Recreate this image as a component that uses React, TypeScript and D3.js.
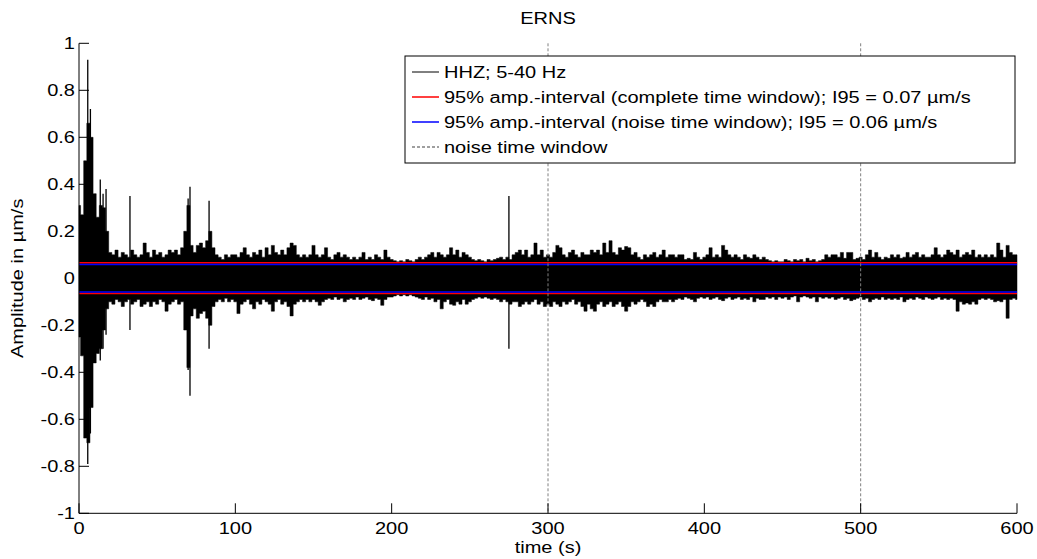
import React from "react";
import * as d3 from "d3";

// ---------- data ----------
const TITLE = "ERNS";
const X_LABEL = "time (s)";
const Y_LABEL = "Amplitude in µm/s";

const SAMPLE_STEP = 2; // seconds between envelope samples

// upper envelope of the HHZ trace (µm/s), every 2 s from 0 to 600 s
const upperEnvelope = [
  0.31, 0.27, 0.5, 0.66, 0.6, 0.36, 0.26, 0.31, 0.3, 0.2,
  0.11, 0.1, 0.12, 0.09, 0.11, 0.1, 0.09, 0.12, 0.1, 0.09,
  0.1, 0.15, 0.11, 0.09, 0.12, 0.1, 0.11, 0.09, 0.1, 0.12,
  0.11, 0.12, 0.1, 0.13, 0.2, 0.31, 0.14, 0.11, 0.14, 0.15,
  0.13, 0.16, 0.2, 0.13, 0.1, 0.09, 0.08, 0.1, 0.09, 0.1,
  0.1, 0.09, 0.11, 0.13, 0.1, 0.09, 0.11, 0.1, 0.12, 0.09,
  0.13, 0.1, 0.14, 0.11, 0.1, 0.12, 0.1, 0.13, 0.15, 0.14,
  0.1, 0.09, 0.1, 0.09, 0.1, 0.14, 0.1, 0.09, 0.1, 0.13,
  0.09, 0.08, 0.1, 0.11, 0.09, 0.1, 0.09, 0.08, 0.09, 0.08,
  0.09, 0.11, 0.08, 0.09, 0.08, 0.1, 0.09, 0.08, 0.12, 0.09,
  0.08, 0.075, 0.07, 0.075, 0.07, 0.08, 0.075, 0.07, 0.08, 0.09,
  0.08, 0.09, 0.1, 0.11, 0.09, 0.11, 0.1, 0.09, 0.1, 0.13,
  0.1, 0.12, 0.09, 0.11, 0.1, 0.09, 0.08, 0.075, 0.08, 0.075,
  0.07, 0.08, 0.075, 0.08, 0.085, 0.09, 0.08, 0.09, 0.08, 0.1,
  0.11, 0.12, 0.1, 0.12, 0.09, 0.1, 0.15, 0.1, 0.12, 0.09,
  0.1, 0.09, 0.11, 0.14, 0.13, 0.1, 0.09, 0.11, 0.12, 0.1,
  0.09, 0.11, 0.1, 0.1, 0.12, 0.11, 0.12, 0.1, 0.15, 0.11,
  0.16, 0.11, 0.1, 0.13, 0.12, 0.135, 0.13, 0.1, 0.11, 0.09,
  0.08, 0.1, 0.09, 0.1, 0.11, 0.09, 0.1, 0.12, 0.09, 0.1,
  0.1, 0.09, 0.1, 0.1, 0.08, 0.085, 0.08, 0.11, 0.09, 0.08,
  0.09, 0.1, 0.13, 0.09, 0.1, 0.09, 0.14, 0.12, 0.1, 0.09,
  0.1, 0.09, 0.08, 0.1, 0.09, 0.085, 0.1, 0.09, 0.08, 0.09,
  0.08, 0.075, 0.07, 0.075, 0.07, 0.07, 0.08, 0.075, 0.07, 0.08,
  0.075, 0.08, 0.07, 0.085, 0.075, 0.08, 0.07, 0.075, 0.08, 0.1,
  0.09, 0.1, 0.1, 0.09, 0.11, 0.085, 0.11, 0.11, 0.08, 0.085,
  0.09, 0.08, 0.1, 0.12, 0.09, 0.11, 0.09, 0.08, 0.09, 0.085,
  0.1, 0.09, 0.1, 0.085, 0.09, 0.11, 0.09, 0.1, 0.11, 0.09,
  0.1, 0.09, 0.09, 0.1, 0.13, 0.1, 0.09, 0.1, 0.12, 0.11,
  0.1, 0.12, 0.09, 0.1, 0.11, 0.1, 0.12, 0.09, 0.1, 0.09,
  0.1, 0.09, 0.1, 0.09, 0.15, 0.12, 0.09, 0.14, 0.11, 0.1,
  0.1,
];

// lower envelope of the HHZ trace (µm/s), every 2 s from 0 to 600 s
const lowerEnvelope = [
  -0.25, -0.33, -0.68, -0.7, -0.55, -0.36, -0.32, -0.3, -0.22, -0.13,
  -0.1, -0.11, -0.09, -0.1, -0.12, -0.1, -0.09, -0.11, -0.1, -0.09,
  -0.12, -0.11, -0.1, -0.12, -0.1, -0.11, -0.09, -0.1, -0.14, -0.11,
  -0.1, -0.09, -0.11, -0.1, -0.22, -0.38, -0.16, -0.13, -0.17, -0.15,
  -0.14, -0.17, -0.2, -0.12, -0.1, -0.09, -0.1, -0.085, -0.1, -0.09,
  -0.1, -0.15, -0.11, -0.1, -0.09, -0.11, -0.13, -0.1, -0.11, -0.09,
  -0.1, -0.11, -0.14, -0.1, -0.09, -0.11, -0.1, -0.12, -0.16, -0.11,
  -0.1, -0.09, -0.1, -0.09, -0.1, -0.09, -0.1, -0.115, -0.1, -0.09,
  -0.085, -0.09, -0.08, -0.09, -0.085, -0.1, -0.09, -0.085, -0.09, -0.08,
  -0.09, -0.085, -0.08, -0.09, -0.095, -0.085, -0.09, -0.115, -0.09, -0.08,
  -0.08, -0.075, -0.07, -0.075, -0.07, -0.075, -0.07, -0.075, -0.08, -0.085,
  -0.09, -0.08, -0.09, -0.085, -0.1, -0.09, -0.13, -0.1, -0.09, -0.11,
  -0.115, -0.1, -0.11, -0.09, -0.11, -0.1, -0.09, -0.085, -0.08, -0.085,
  -0.08, -0.085, -0.09, -0.085, -0.09, -0.1, -0.09, -0.1, -0.11, -0.1,
  -0.1, -0.12, -0.11, -0.1, -0.11, -0.1, -0.09, -0.11, -0.1, -0.12,
  -0.11, -0.12, -0.1, -0.11, -0.12, -0.1, -0.11, -0.1, -0.09, -0.11,
  -0.1, -0.12, -0.14, -0.11, -0.13, -0.14, -0.11, -0.1, -0.12, -0.11,
  -0.1, -0.12, -0.11, -0.1, -0.12, -0.14, -0.12, -0.1, -0.11, -0.1,
  -0.09, -0.1, -0.12, -0.11, -0.12, -0.1, -0.09, -0.1, -0.1, -0.09,
  -0.1, -0.09, -0.085, -0.09, -0.08, -0.085, -0.09, -0.1, -0.085, -0.08,
  -0.085, -0.08, -0.09, -0.085, -0.08, -0.09, -0.095, -0.085, -0.08, -0.09,
  -0.085, -0.08, -0.09, -0.085, -0.09, -0.08, -0.1, -0.085, -0.09, -0.09,
  -0.08, -0.085, -0.08, -0.09, -0.08, -0.085, -0.08, -0.09, -0.08, -0.075,
  -0.1, -0.08, -0.075, -0.08, -0.085, -0.08, -0.1, -0.08, -0.085, -0.08,
  -0.085, -0.08, -0.09, -0.085, -0.08, -0.09, -0.085, -0.095, -0.09, -0.085,
  -0.08, -0.09, -0.085, -0.1, -0.09, -0.085, -0.09, -0.08, -0.09, -0.085,
  -0.09, -0.085, -0.09, -0.08, -0.1, -0.09, -0.085, -0.09, -0.08, -0.085,
  -0.09, -0.08, -0.085, -0.09, -0.085, -0.08, -0.09, -0.085, -0.09, -0.085,
  -0.09, -0.14, -0.1, -0.11, -0.105, -0.11, -0.1, -0.11, -0.09, -0.085,
  -0.09, -0.085, -0.09, -0.1, -0.095, -0.1, -0.09, -0.17, -0.09, -0.085,
  -0.09,
];

// narrow peaks of the trace: [time s, max µm/s, min µm/s]
const spikes: [number, number, number][] = [
  [5.6, 0.93, -0.79],
  [7.3, 0.72, -0.66],
  [13.6, 0.42, -0.35],
  [15.4, 0.36, -0.3],
  [17.3, 0.38, -0.24],
  [32.6, 0.35, -0.22],
  [69.8, 0.34, -0.39],
  [71.0, 0.39, -0.5],
  [83.2, 0.33, -0.3],
  [275.0, 0.35, -0.3],
];

const completeWindowInterval = [0.066, -0.065]; // red
const noiseWindowInterval = [0.059, -0.058]; // blue
const noiseWindowBounds = [300, 500];

const xTicks = [0, 100, 200, 300, 400, 500, 600];
const yTicks = [-1, -0.8, -0.6, -0.4, -0.2, 0, 0.2, 0.4, 0.6, 0.8, 1];
const yTickLabels = ["-1", "-0.8", "-0.6", "-0.4", "-0.2", "0", "0.2", "0.4", "0.6", "0.8", "1"];

const legendLabels = [
  "HHZ; 5-40 Hz",
  "95% amp.-interval (complete time window); I95 = 0.07 µm/s",
  "95% amp.-interval (noise time window); I95 = 0.06 µm/s",
  "noise time window",
];

// ---------- layout ----------
const W = 1037;
const H = 559;
const M = { left: 79, right: 1017, top: 43.3, bottom: 513.3 };
const FONT = "'Liberation Sans', Arial, Helvetica, sans-serif";
const FS = 16;
const STRETCH = 1.25;

function Txt(props: {
  x: number;
  y: number;
  anchor?: string;
  rotate?: number;
  children: React.ReactNode;
}) {
  const { x, y, anchor = "start", rotate = 0, children } = props;
  return (
    <text
      transform={`translate(${x},${y}) rotate(${rotate}) scale(${STRETCH},1)`}
      textAnchor={anchor}
      fontFamily={FONT}
      fontSize={FS}
      fill="#000"
    >
      {children}
    </text>
  );
}

export default function App() {
  const x = d3.scaleLinear().domain([0, 600]).range([M.left, M.right]);
  const y = d3.scaleLinear().domain([-1, 1]).range([M.bottom, M.top]);

  const area = d3
    .area<number>()
    .curve(d3.curveStep)
    .x((_, i) => x(i * SAMPLE_STEP))
    .y0((_, i) => y(lowerEnvelope[i]))
    .y1((d) => y(d));

  const legendColors = ["#000", "#ff0000", "#0000ff", "#808080"];
  const lg = { x: 405, y: 56, w: 610, h: 107 };
  const rowY = (i: number) => 72 + i * 25;

  return (
    <svg
      width={W}
      height={H}
      style={{ position: "absolute", left: 0, top: 0, background: "#fff" }}
    >
      <rect x={0} y={0} width={W} height={H} fill="#fff" />
      <Txt x={(M.left + M.right) / 2} y={24} anchor="middle">
        {TITLE}
      </Txt>

      {/* signal */}
      <path d={area(upperEnvelope) || ""} fill="#000" stroke="#000" strokeWidth={0.5} />
      {spikes.map(([t, hi, lo], i) => (
        <line key={i} x1={x(t)} x2={x(t)} y1={y(hi)} y2={y(lo)} stroke="#000" strokeWidth={1.3} />
      ))}

      {/* 95% intervals */}
      {completeWindowInterval.map((v, i) => (
        <line key={"r" + i} x1={x(0)} x2={x(600)} y1={y(v)} y2={y(v)} stroke="#ff0000" strokeWidth={1.5} />
      ))}
      {noiseWindowInterval.map((v, i) => (
        <line key={"b" + i} x1={x(0)} x2={x(600)} y1={y(v)} y2={y(v)} stroke="#0000ff" strokeWidth={1.5} />
      ))}

      {/* noise window */}
      {noiseWindowBounds.map((t, i) => (
        <line
          key={"d" + i}
          x1={x(t)}
          x2={x(t)}
          y1={y(1)}
          y2={y(-1)}
          stroke="#808080"
          strokeWidth={1}
          strokeDasharray="3,2"
        />
      ))}

      {/* axes */}
      <line x1={M.left} x2={M.left} y1={M.top} y2={M.bottom} stroke="#000" strokeWidth={1} />
      <line x1={M.left} x2={M.right} y1={M.bottom} y2={M.bottom} stroke="#000" strokeWidth={1} />
      {yTicks.map((v, i) => (
        <g key={"yt" + i}>
          <line x1={M.left} x2={M.left + 10} y1={y(v)} y2={y(v)} stroke="#000" strokeWidth={1} />
          <Txt x={M.left - 4} y={y(v) + 5.5} anchor="end">
            {yTickLabels[i]}
          </Txt>
        </g>
      ))}
      {xTicks.map((v, i) => (
        <g key={"xt" + i}>
          <line x1={x(v)} x2={x(v)} y1={M.bottom} y2={M.bottom - 10} stroke="#000" strokeWidth={1} />
          <Txt x={x(v)} y={534} anchor="middle">
            {String(v)}
          </Txt>
        </g>
      ))}
      <Txt x={(M.left + M.right) / 2} y={553} anchor="middle">
        {X_LABEL}
      </Txt>
      <Txt x={23} y={(M.top + M.bottom) / 2} anchor="middle" rotate={-90}>
        {Y_LABEL}
      </Txt>

      {/* legend */}
      <rect x={lg.x} y={lg.y} width={lg.w} height={lg.h} fill="#fff" stroke="#000" strokeWidth={1} />
      {legendLabels.map((lab, i) => (
        <g key={"lg" + i}>
          <line
            x1={412}
            x2={439}
            y1={rowY(i)}
            y2={rowY(i)}
            stroke={legendColors[i]}
            strokeWidth={i === 0 ? 1 : 1.5}
            strokeDasharray={i === 3 ? "3,2" : undefined}
          />
          <Txt x={444} y={rowY(i) + 5.5}>
            {lab}
          </Txt>
        </g>
      ))}
    </svg>
  );
}
